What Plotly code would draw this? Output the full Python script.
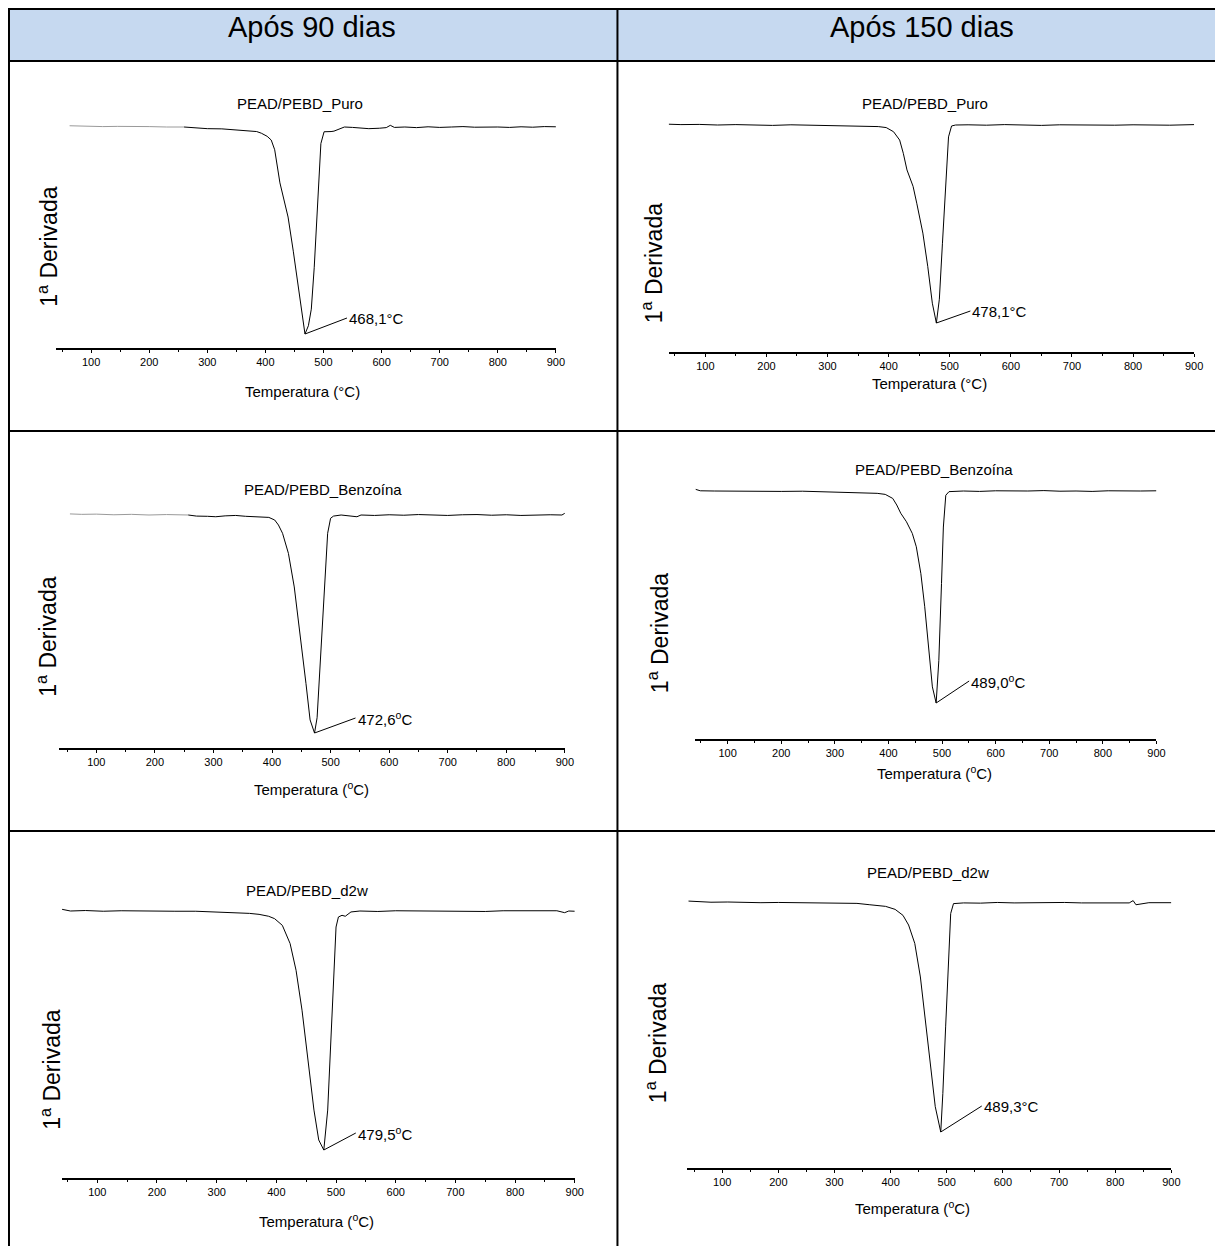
import plotly.graph_objects as go

# ---------------- data ----------------
COL_HEADERS = ["Após 90 dias", "Após 150 dias"]

TITLES = ["PEAD/PEBD_Puro", "PEAD/PEBD_Puro",
          "PEAD/PEBD_Benzoína", "PEAD/PEBD_Benzoína",
          "PEAD/PEBD_d2w", "PEAD/PEBD_d2w"]

XTITLES = ["Temperatura (°C)", "Temperatura (°C)",
           "Temperatura (<sup>o</sup>C)", "Temperatura (<sup>o</sup>C)",
           "Temperatura (<sup>o</sup>C)", "Temperatura (<sup>o</sup>C)"]

PEAK_LABELS = ["468,1°C", "478,1°C", "472,6<sup>o</sup>C",
               "489,0<sup>o</sup>C", "479,5<sup>o</sup>C", "489,3°C"]

YTITLE = "1<sup>a</sup> Derivada"

# temperatures (°C) and normalised first derivative (baseline 0, peak -1)
T11 = [63, 80, 100, 120, 145, 170, 200, 230, 260, 280, 300, 325, 347, 370, 385, 393, 403, 410, 416,
       425, 439, 448, 456, 463, 468.1, 474, 479, 484, 490, 495.5, 501, 507, 513, 518, 527, 536, 550,
       563, 578, 596, 608, 615, 622, 640, 660, 680, 700, 720, 740, 760, 780, 800, 820, 840, 860, 880, 900]
V11 = [0.006, 0.004, 0.005, 0.002, 0.003, 0.001, 0.002, 0.0, 0.0, -0.004, -0.008, -0.009, -0.013, -0.017,
       -0.022, -0.03, -0.045, -0.063, -0.11, -0.27, -0.435, -0.6, -0.76, -0.92, -1.0, -0.96, -0.88, -0.68,
       -0.35, -0.08, -0.023, -0.024, -0.022, -0.02, -0.008, 0.0, -0.002, -0.005, -0.008, -0.006, -0.003,
       0.008, -0.002, 0.0, -0.003, 0.001, -0.002, 0.0, 0.002, -0.001, 0.001, 0.0, -0.002, 0.001, -0.001,
       0.002, 0.001]

T12 = [40, 60, 90, 120, 150, 180, 210, 240, 270, 300, 330, 360, 383, 396, 408, 418, 424, 430, 440, 446,
       456, 464, 471.5, 478.1, 483, 488, 493.7, 498, 503, 509.5, 530, 560, 590, 620, 650, 680, 710, 740,
       770, 800, 830, 860, 900]
V12 = [0.004, 0.002, 0.003, 0.0, 0.002, 0.0, -0.002, 0.001, -0.001, -0.003, -0.002, -0.005, -0.008,
       -0.013, -0.034, -0.076, -0.143, -0.227, -0.31, -0.395, -0.546, -0.714, -0.9, -1.0, -0.88, -0.6,
       -0.26, -0.06, -0.005, 0.0, 0.001, -0.001, 0.002, 0.0, -0.002, 0.001, 0.0, 0.002, -0.001, 0.001,
       0.0, -0.001, 0.002]

T21 = [55, 75, 100, 130, 160, 190, 220, 257, 271, 290, 304, 320, 338, 355, 371, 385, 394.6, 404.6, 411,
       418, 428, 438, 448, 458, 465, 472.6, 477, 481.6, 488, 495, 500, 505, 518, 532, 545, 552, 575, 600,
       625, 650, 675, 700, 725, 750, 775, 800, 825, 850, 875, 895, 900]
V21 = [0.005, 0.003, 0.004, 0.001, 0.003, 0.0, 0.002, 0.0, -0.005, -0.006, -0.008, -0.004, -0.002,
       -0.006, -0.008, -0.007, -0.011, -0.023, -0.046, -0.084, -0.176, -0.33, -0.544, -0.773, -0.94, -1.0,
       -0.93, -0.7, -0.39, -0.084, -0.015, -0.005, 0.0, -0.003, -0.008, 0.0, -0.002, 0.001, -0.001, 0.002,
       0.0, -0.002, 0.001, 0.002, -0.001, 0.001, -0.002, 0.0, 0.001, 0.0, 0.008]

T22 = [40, 49, 75, 100, 130, 162, 200, 240, 280, 307, 340, 379, 394, 408, 415.5, 423, 433.6, 444.5, 452,
       460.5, 467.7, 475, 482, 489.0, 494, 499, 502.5, 507, 513, 540, 570, 600, 630, 660, 690, 720, 750,
       780, 810, 840, 870, 900]
V22 = [0.008, 0.001, 0.0, -0.001, 0.001, 0.0, -0.002, -0.001, -0.004, -0.006, -0.005, -0.011, -0.016,
       -0.035, -0.066, -0.105, -0.145, -0.2, -0.263, -0.39, -0.546, -0.735, -0.924, -1.0, -0.8, -0.436,
       -0.17, -0.02, -0.003, 0.0, -0.002, 0.001, -0.001, 0.0, 0.002, -0.001, 0.0, -0.002, 0.001, -0.001,
       0.0, 0.001]

T31 = [41, 55, 80, 110, 140, 170, 200, 230, 265, 300, 331, 355, 371, 387, 397, 410, 423, 433, 443, 453,
       463, 471, 479.5, 486, 491, 496, 500, 504, 510, 515.5, 525, 540, 570, 600, 630, 660, 690, 720, 750,
       780, 810, 840, 870, 883, 890, 900]
V31 = [0.007, 0.0, 0.002, -0.001, 0.001, 0.0, -0.002, -0.001, -0.001, -0.004, -0.008, -0.01, -0.014,
       -0.022, -0.032, -0.06, -0.136, -0.248, -0.415, -0.624, -0.833, -0.958, -1.0, -0.833, -0.554,
       -0.276, -0.067, -0.025, -0.018, -0.022, -0.004, 0.0, -0.002, 0.001, 0.0, -0.001, 0.001, 0.0,
       -0.002, 0.001, 0.0, -0.001, 0.001, -0.007, 0.0, -0.001]

T32 = [40, 55, 80, 110, 140, 169, 200, 240, 280, 308, 340, 363, 391, 408, 422, 432, 443, 453, 461.5,
       470.5, 479.5, 489.3, 493, 498, 503, 507, 512, 530, 560, 590, 620, 650, 680, 710, 740, 770, 800,
       825, 832, 837, 860, 880, 900]
V32 = [0.004, 0.001, -0.001, 0.0, -0.002, -0.003, -0.002, -0.003, -0.002, -0.004, -0.006, -0.012,
       -0.019, -0.032, -0.058, -0.1, -0.18, -0.326, -0.5, -0.703, -0.89, -1.0, -0.833, -0.543, -0.225,
       -0.05, -0.007, -0.004, -0.005, -0.002, -0.004, -0.003, -0.005, -0.002, -0.004, -0.003, -0.002,
       -0.004, 0.006, -0.012, -0.003, -0.002, -0.003]

SERIES = [(T11, V11), (T12, V12), (T21, V21), (T22, V22), (T31, V31), (T32, V32)]

# ---------------- layout (page pixels of the reference) ----------------
PAGE_OFF = 8                 # default page margin around the figure
W, H = 1224 - PAGE_OFF, 1246 - PAGE_OFF
FONT = "Arial, 'Liberation Sans', sans-serif"
TXT = 15

# left px, right px(at 900), x-min, axis y, baseline y, minimum y,
# title (x,y), y-title (x,y), x-title (x,y), label offset (ax, ay), grey start until T
PANELS = [
    dict(l=56.6, r=560, xmin=40, ax_y=348, base=127, mn=334, tt=(302, 103), yt=(48, 247), xt=(305, 391), off=(42, -16), grey=262),
    dict(l=673.6, r=1203, xmin=40, ax_y=352, base=125, mn=323, tt=(932, 103), yt=(657, 263), xt=(936, 383), off=(34, -12), grey=None),
    dict(l=59.2, r=569, xmin=36, ax_y=748, base=515, mn=733, tt=(325, 489), yt=(47, 637), xt=(314, 788), off=(41, -15), grey=265),
    dict(l=700.6, r=1165, xmin=40, ax_y=739, base=491, mn=703, tt=(941, 469), yt=(663, 633), xt=(941, 772), off=(33, -22), grey=None),
    dict(l=61.9, r=579, xmin=40, ax_y=1178, base=911, mn=1150, tt=(309, 890), yt=(51, 1070), xt=(319, 1220), off=(32, -17), grey=None),
    dict(l=691.9, r=1180, xmin=37, ax_y=1168, base=902, mn=1132, tt=(935, 872), yt=(661, 1043), xt=(919, 1207), off=(41, -26), grey=None),
]


def px(x):
    return (x - PAGE_OFF) / W


def py(y):
    return 1 - (y - PAGE_OFF) / H


fig = go.Figure()
annotations = []
layout_axes = {}

for i, (p, (T, V)) in enumerate(zip(PANELS, SERIES)):
    k = "" if i == 0 else str(i + 1)
    xr, yr = "x" + k, "y" + k
    scale = p["mn"] - p["base"]
    top = p["base"] - 20
    v_bottom = -(p["ax_y"] - p["base"]) / scale
    v_top = (p["base"] - top) / scale

    if p["grey"]:
        n = max(j for j, t in enumerate(T) if t <= p["grey"])
        fig.add_trace(go.Scatter(x=T[:n + 1], y=V[:n + 1], mode="lines",
                                 line=dict(color="#9a9a9a", width=1),
                                 xaxis=xr, yaxis=yr, showlegend=False, hoverinfo="skip"))
        fig.add_trace(go.Scatter(x=T[n:], y=V[n:], mode="lines",
                                 line=dict(color="black", width=1),
                                 xaxis=xr, yaxis=yr, showlegend=False, hoverinfo="skip"))
    else:
        fig.add_trace(go.Scatter(x=T, y=V, mode="lines", line=dict(color="black", width=1),
                                 xaxis=xr, yaxis=yr, showlegend=False, hoverinfo="skip"))

    layout_axes["xaxis" + k] = dict(
        domain=[px(p["l"]), px(p["r"])], range=[p["xmin"], 900], anchor=yr,
        showline=True, linewidth=2, linecolor="black",
        ticks="outside", ticklen=3, tickwidth=1, tickcolor="black",
        tick0=0, dtick=100,
        minor=dict(ticks="outside", ticklen=2, tickwidth=1, tickcolor="black",
                   tick0=0, dtick=50, showgrid=False),
        showgrid=False, zeroline=False, fixedrange=True,
        tickfont=dict(family=FONT, size=11, color="black"),
    )
    layout_axes["yaxis" + k] = dict(
        domain=[py(p["ax_y"]), py(top)], range=[v_bottom, v_top], anchor=xr,
        visible=False, fixedrange=True,
    )

    # chart title, axis titles
    annotations.append(dict(x=px(p["tt"][0]), y=py(p["tt"][1]), xref="paper", yref="paper",
                            text=TITLES[i], showarrow=False, xanchor="center", yanchor="middle",
                            font=dict(family=FONT, size=TXT, color="black")))
    annotations.append(dict(x=px(p["xt"][0]), y=py(p["xt"][1]), xref="paper", yref="paper",
                            text=XTITLES[i], showarrow=False, xanchor="center", yanchor="middle",
                            font=dict(family=FONT, size=TXT, color="black")))
    annotations.append(dict(x=px(p["yt"][0]), y=py(p["yt"][1]), xref="paper", yref="paper",
                            text=YTITLE, showarrow=False, textangle=-90,
                            xanchor="center", yanchor="middle",
                            font=dict(family=FONT, size=23, color="black")))
    # peak label with leader line
    j = min(range(len(V)), key=lambda m: V[m])
    annotations.append(dict(x=T[j], y=V[j], xref=xr, yref=yr, text=PEAK_LABELS[i],
                            showarrow=True, arrowhead=0, arrowwidth=1, arrowcolor="black",
                            ax=p["off"][0], ay=p["off"][1], standoff=0,
                            xanchor="left", yanchor="middle",
                            font=dict(family=FONT, size=TXT, color="black")))

# column headers
for cx, txt in zip([314, 929], COL_HEADERS):
    annotations.append(dict(x=px(cx), y=py(27), xref="paper", yref="paper", text=txt,
                            showarrow=False, xanchor="center", yanchor="middle",
                            font=dict(family=FONT, size=29, color="black")))

LINE = dict(color="black", width=2)
X_END = 1224
shapes = [
    dict(type="rect", xref="paper", yref="paper", x0=px(9), x1=px(X_END), y0=py(61), y1=py(9),
         fillcolor="#C6D9F0", line=dict(width=0), layer="below"),
    dict(type="line", xref="paper", yref="paper", x0=px(8), x1=px(X_END), y0=py(9), y1=py(9), line=LINE),
    dict(type="line", xref="paper", yref="paper", x0=px(8), x1=px(X_END), y0=py(61), y1=py(61), line=LINE),
    dict(type="line", xref="paper", yref="paper", x0=px(8), x1=px(X_END), y0=py(431), y1=py(431), line=LINE),
    dict(type="line", xref="paper", yref="paper", x0=px(8), x1=px(X_END), y0=py(831), y1=py(831), line=LINE),
    dict(type="line", xref="paper", yref="paper", x0=px(9), x1=px(9), y0=py(8), y1=py(1246), line=LINE),
    dict(type="line", xref="paper", yref="paper", x0=px(622), x1=px(622), y0=py(8), y1=py(1246), line=LINE),
]

fig.update_layout(
    width=W, height=H, autosize=False,
    margin=dict(l=0, r=0, t=0, b=0, pad=0),
    paper_bgcolor="white", plot_bgcolor="rgba(0,0,0,0)",
    showlegend=False, annotations=annotations, shapes=shapes,
    font=dict(family=FONT, color="black"),
    **layout_axes,
)

fig.write_html("out.html", config=dict(displayModeBar=False))
